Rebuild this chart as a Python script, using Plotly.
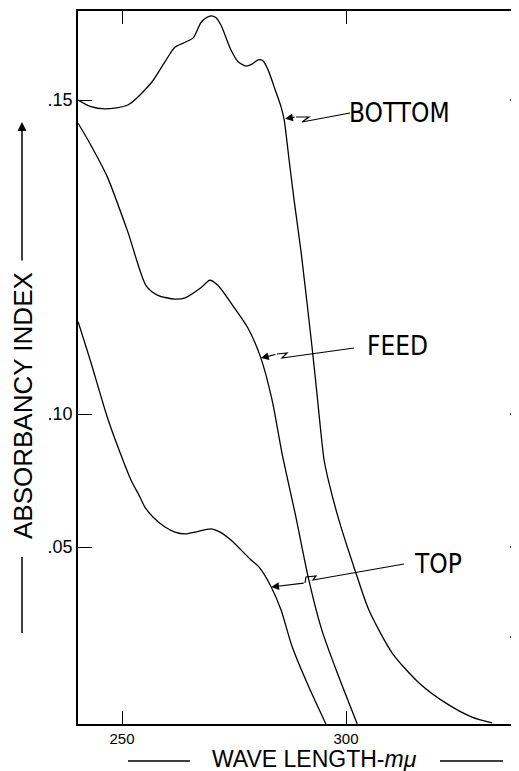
import numpy as np
import plotly.graph_objects as go

# ---------------- data ----------------
# wavelength in m-mu, absorbancy index
bottom_wl = [240.2, 242.9, 246.2, 251.3, 256.5, 259.6, 261.8, 264.1, 265.9, 267.6, 268.8,
             269.9, 271.0, 272.1, 274.3, 275.9, 277.7, 279.0, 280.4, 281.5, 282.6, 284.2,
             285.5, 286.2, 287.3, 288.4, 290.0, 292.4, 293.5, 295.1, 296.2, 298.4, 302.2,
             305.1, 310.3, 316.3, 322.3, 328.1, 332.6]
bottom_abs = [0.1500, 0.1490, 0.1486, 0.1492, 0.1527, 0.1561, 0.1584, 0.1592, 0.1599, 0.1623,
              0.1631, 0.1634, 0.1631, 0.1619, 0.1580, 0.1561, 0.1554, 0.1557, 0.1564, 0.1562,
              0.1548, 0.1516, 0.1489, 0.1468, 0.1404, 0.1341, 0.1256, 0.1107, 0.1033, 0.0827,
              0.0741, 0.0602, 0.0428, 0.0325, 0.0204, 0.0118, 0.0060, 0.0020, 0.0003]

feed_wl = [240.2, 242.9, 246.7, 251.3, 255.4, 258.0, 261.8, 264.1, 267.6, 269.6,
           271.4, 274.3, 278.1, 281.0, 283.5, 285.7, 288.8, 291.7, 294.6, 297.8, 302.5]
feed_abs = [0.1463, 0.1430, 0.1378, 0.1290, 0.1204, 0.1189, 0.1183, 0.1185, 0.1201,
            0.1213, 0.1205, 0.1177, 0.1137, 0.1089, 0.1022, 0.0853, 0.0613, 0.0408, 0.0269,
            0.0155, 0.0000]

top_wl = [240.2, 242.9, 246.7, 250.2, 252.0, 254.0, 255.1, 256.9, 259.6, 261.8, 264.1,
          266.3, 269.9, 271.9, 274.3, 278.8, 280.6, 283.3, 285.5, 288.0, 291.7, 295.5]
top_abs = [0.1147, 0.1086, 0.0989, 0.0827, 0.0752, 0.0688, 0.0650, 0.0613, 0.0575, 0.0556,
           0.0549, 0.0556, 0.0568, 0.0556, 0.0526, 0.0464, 0.0444, 0.0389, 0.0325, 0.0221,
           0.0106, 0.0000]

x_tick_vals = [250, 300]
x_tick_text = ["250", "300"]
y_tick_vals = [0.15, 0.10, 0.05]
y_tick_text = [".15", ".10", ".05"]
right_tick_vals = [0.15, 0.10, 0.05, 0.025]

curve_names = ["BOTTOM", "FEED", "TOP"]
# arrow tips (on the curves), wavelength / absorbancy
tip_wl = [286.4, 281.0, 283.3]
tip_abs = [0.1470, 0.1089, 0.0389]

# ---------------- non-uniform ordinate of the chart paper ----------------
SCALE_ABS = [0.0, 0.025, 0.05, 0.10, 0.15, 0.17]
SCALE_POS = [0.0, 87.0, 177.0, 310.0, 624.0, 749.6]


def to_axis(a):
    return np.interp(np.asarray(a, dtype=float), SCALE_ABS, SCALE_POS)


# ---------------- layout geometry ----------------
BODY = 8                      # default page margin around the plot div
W, H = 519 - BODY, 771 - BODY
L, R, T, B = 70, 0, 3, 47
PW, PH = W - L - R, H - T - B


def paper(px, py):
    """page pixel -> paper fraction"""
    return (px - BODY - L) / PW, (H - B - (py - BODY)) / PH


def path(points):
    pts = [paper(*p) for p in points]
    return "M " + " L ".join(f"{x:.5f},{y:.5f}" for x, y in pts)


FONT = "Liberation Sans, Arial, sans-serif"
NARROW = "Liberation Sans Narrow, DejaVu Sans Condensed, Liberation Sans, sans-serif"
LINE = dict(color="black", width=1.3, shape="spline", smoothing=0.7)

fig = go.Figure()
for wl, ab in [(bottom_wl, bottom_abs), (feed_wl, feed_abs), (top_wl, top_abs)]:
    fig.add_trace(go.Scatter(x=wl, y=to_axis(ab), mode="lines", line=LINE,
                             hoverinfo="skip", showlegend=False))

shapes = []
# right-hand ticks
for v in right_tick_vals:
    shapes.append(dict(type="line", xref="paper", yref="y", x0=paper(510, 0)[0], x1=1.0,
                       y0=float(to_axis(v)), y1=float(to_axis(v)),
                       line=dict(color="black", width=1.4)))
# y title line below text
x0, y0 = paper(22, 557)
x1, y1 = paper(22, 633)
shapes.append(dict(type="line", xref="paper", yref="paper", x0=x0, y0=y0, x1=x1, y1=y1,
                   line=dict(color="black", width=1.5)))
# x title lines
for a, b in [(128, 190), (440, 503)]:
    x0, y0 = paper(a, 761)
    x1, y1 = paper(b, 761)
    shapes.append(dict(type="line", xref="paper", yref="paper", x0=x0, y0=y0, x1=x1, y1=y1,
                       line=dict(color="black", width=1.5)))
# label leader lines with squiggles
leaders = [
    [(350, 113), (302, 122), (309, 117), (296, 117)],
    [(354, 348), (282, 358), (287, 353), (277, 354)],
    [(404, 564), (313, 580), (316, 576), (306, 577), (305, 583)],
]
for pts in leaders:
    shapes.append(dict(type="path", xref="paper", yref="paper", path=path(pts),
                       line=dict(color="black", width=1.2)))

annotations = []
# arrowheads onto the curves
tails = [(11, -2), (16, -4), (34, -4)]
for wl, ab, (ax, ay) in zip(tip_wl, tip_abs, tails):
    annotations.append(dict(x=wl, y=float(to_axis(ab)), xref="x", yref="y", text="",
                            showarrow=True, arrowhead=2, arrowsize=1.3, arrowwidth=1.2,
                            arrowcolor="black", ax=ax, ay=ay))
# curve labels
label_px = [(399, 113), (397, 346), (438, 564)]
for name, (px, py) in zip(curve_names, label_px):
    xp, yp = paper(px, py)
    annotations.append(dict(x=xp, y=yp, xref="paper", yref="paper", text=name,
                            showarrow=False, xanchor="center", yanchor="middle",
                            font=dict(family=NARROW, size=26, color="black")))
# y-axis title
xp, yp = paper(23, 406)
annotations.append(dict(x=xp, y=yp, xref="paper", yref="paper", text="ABSORBANCY INDEX",
                        textangle=-90, showarrow=False, xanchor="center", yanchor="middle",
                        font=dict(family=FONT, size=26, color="black")))
xp, yp = paper(22, 122)
annotations.append(dict(x=xp, y=yp, xref="paper", yref="paper", text="", showarrow=True,
                        arrowhead=2, arrowsize=1.2, arrowwidth=1.5, arrowcolor="black",
                        ax=0, ay=140))
# x-axis title
xp, yp = paper(314, 759)
annotations.append(dict(x=xp, y=yp, xref="paper", yref="paper",
                        text="WAVE LENGTH-<i>mμ</i>", showarrow=False,
                        xanchor="center", yanchor="middle",
                        font=dict(family=FONT, size=23, color="black")))

fig.update_layout(
    width=W, height=H,
    margin=dict(l=L, r=R, t=T, b=B, pad=0),
    paper_bgcolor="white", plot_bgcolor="white",
    showlegend=False,
    shapes=shapes, annotations=annotations,
    xaxis=dict(range=[240.18, 338.6], tickvals=x_tick_vals, ticktext=x_tick_text,
               ticks="inside", ticklen=13, tickwidth=1.3, tickcolor="black",
               showline=True, linecolor="black", linewidth=1.6, mirror="ticks",
               showgrid=False, zeroline=False, ticklabelstandoff=0,
               tickfont=dict(family=FONT, size=15, color="black")),
    yaxis=dict(range=[0, PH], tickvals=[float(v) for v in to_axis(y_tick_vals)],
               ticktext=y_tick_text,
               ticks="inside", ticklen=14, tickwidth=1.3, tickcolor="black",
               showline=True, linecolor="black", linewidth=1.6, mirror=False,
               showgrid=False, zeroline=False, ticklabelstandoff=0,
               tickfont=dict(family=FONT, size=18, color="black")),
)

fig.write_html("out.html")
